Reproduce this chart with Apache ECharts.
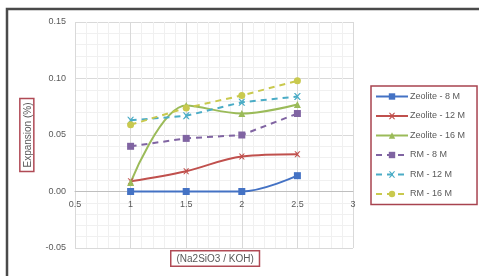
<!DOCTYPE html>
<html>
<head>
<meta charset="utf-8">
<script src="https://cdn.jsdelivr.net/npm/echarts@6/dist/echarts.min.js"></script>
<style>html,body{margin:0;padding:0;background:#fff}#c{width:479px;height:276px}</style>
</head>
<body>
<div id="c"></div>
<script>
var xValues = [1, 1.5, 2, 2.5];
var seriesNames = ["Zeolite - 8 M", "Zeolite - 12 M", "Zeolite - 16 M", "RM - 8 M", "RM - 12 M", "RM - 16 M"];
var zeolite8 = [0.000, 0.000, 0.000, 0.014];
var zeolite12 = [0.009, 0.018, 0.031, 0.033];
var zeolite16 = [0.008, 0.076, 0.069, 0.077];
var rm8 = [0.040, 0.047, 0.050, 0.069];
var rm12 = [0.063, 0.067, 0.079, 0.084];
var rm16 = [0.059, 0.074, 0.085, 0.098];
var yTicks = [-0.05, 0.00, 0.05, 0.10, 0.15];
var xTicks = [0.5, 1, 1.5, 2, 2.5, 3];

var xPath = 'path://M0,0L2,0L5,3L8,0L10,0L6,5L10,10L8,10L5,7L2,10L0,10L4,5Z';
var colors = ['#4472c4', '#c0504d', '#9bbb59', '#8064a2', '#4bacc6', '#c9c94e'];
var symbols = ['rect', xPath, 'triangle', 'rect', xPath, 'circle'];
var sizes = [7, 6, 7, 7, 7, 7];
var dataSets = [zeolite8, zeolite12, zeolite16, rm8, rm12, rm16];

function pairs(arr) { return xValues.map(function (x, i) { return [x, arr[i]]; }); }

var series = dataSets.map(function (d, i) {
  var dashed = i >= 3;
  return {
    name: seriesNames[i],
    type: 'line',
    data: pairs(d),
    smooth: dashed ? false : 0.35,
    symbol: symbols[i],
    symbolSize: sizes[i],
    showSymbol: true,
    itemStyle: { color: colors[i] },
    lineStyle: { color: colors[i], width: 2, type: dashed ? [6, 5] : 'solid' },
    emphasis: { disabled: true }
  };
});

var gridTop = 22, gridBottom = 28, chartH = 276;
var plotH = chartH - gridTop - gridBottom;
var yMin = yTicks[0], yMax = yTicks[yTicks.length - 1];
// place the x axis where y = 0 crosses (as in the original chart)
var zeroOffset = -plotH * (0 - yMin) / (yMax - yMin);

var chart = echarts.init(document.getElementById('c'), null, { renderer: 'canvas' });
chart.setOption({
  animation: false,
  backgroundColor: '#fff',
  grid: { left: 75, right: 126, top: gridTop, bottom: gridBottom },
  xAxis: {
    type: 'value', min: xTicks[0], max: xTicks[xTicks.length - 1], interval: 0.5,
    offset: zeroOffset,
    axisLine: { onZero: false, lineStyle: { color: '#bfbfbf', width: 1 } },
    axisTick: { show: false },
    axisLabel: { color: '#595959', fontSize: 9, fontFamily: 'Liberation Sans', margin: 9 },
    splitLine: { show: true, lineStyle: { color: '#d9d9d9', width: 1 } },
    minorSplitLine: { show: true, lineStyle: { color: '#f0f0f0', width: 1 } },
    minorTick: { show: false, splitNumber: 5 }
  },
  yAxis: {
    type: 'value', min: yMin, max: yMax, interval: 0.05,
    axisLine: { show: false },
    axisTick: { show: false },
    axisLabel: { color: '#595959', fontSize: 9, fontFamily: 'Liberation Sans', margin: 9,
      formatter: function (v) { return v.toFixed(2); } },
    splitLine: { show: true, lineStyle: { color: '#d9d9d9', width: 1 } },
    minorSplitLine: { show: true, lineStyle: { color: '#f0f0f0', width: 1 } },
    minorTick: { show: false, splitNumber: 5 },
    name: 'Expansion (%)', nameLocation: 'middle', nameGap: 33, nameRotate: 90,
    nameTextStyle: { color: '#595959', fontSize: 10, fontFamily: 'Liberation Sans',
      borderColor: '#b04a55', borderWidth: 1.5, padding: [3, 4, 1, 4] }
  },
  legend: {
    orient: 'vertical', left: 371, top: 86,
    data: seriesNames,
    itemWidth: 32, itemHeight: 8, itemGap: 10.5,
    borderColor: '#a8434f', borderWidth: 1.5, padding: [6, 12, 6, 4],
    textStyle: { color: '#595959', fontSize: 9, fontFamily: 'Liberation Sans', padding: [0, 0, 0, -3] }
  },
  graphic: [
    { type: 'rect', shape: { x: 7, y: 9, width: 480, height: 280 }, style: { fill: 'none', stroke: '#4a4a4a', lineWidth: 2.5 }, silent: true },
    { type: 'text', left: 170, top: 250, style: { text: '(Na2SiO3 / KOH)', fill: '#595959', fontSize: 10, fontFamily: 'Liberation Sans',
      borderColor: '#b04a55', borderWidth: 1.5, padding: [3, 5, 1, 5], backgroundColor: '#fff' } }
  ],
  series: series
});
</script>
</body>
</html>
